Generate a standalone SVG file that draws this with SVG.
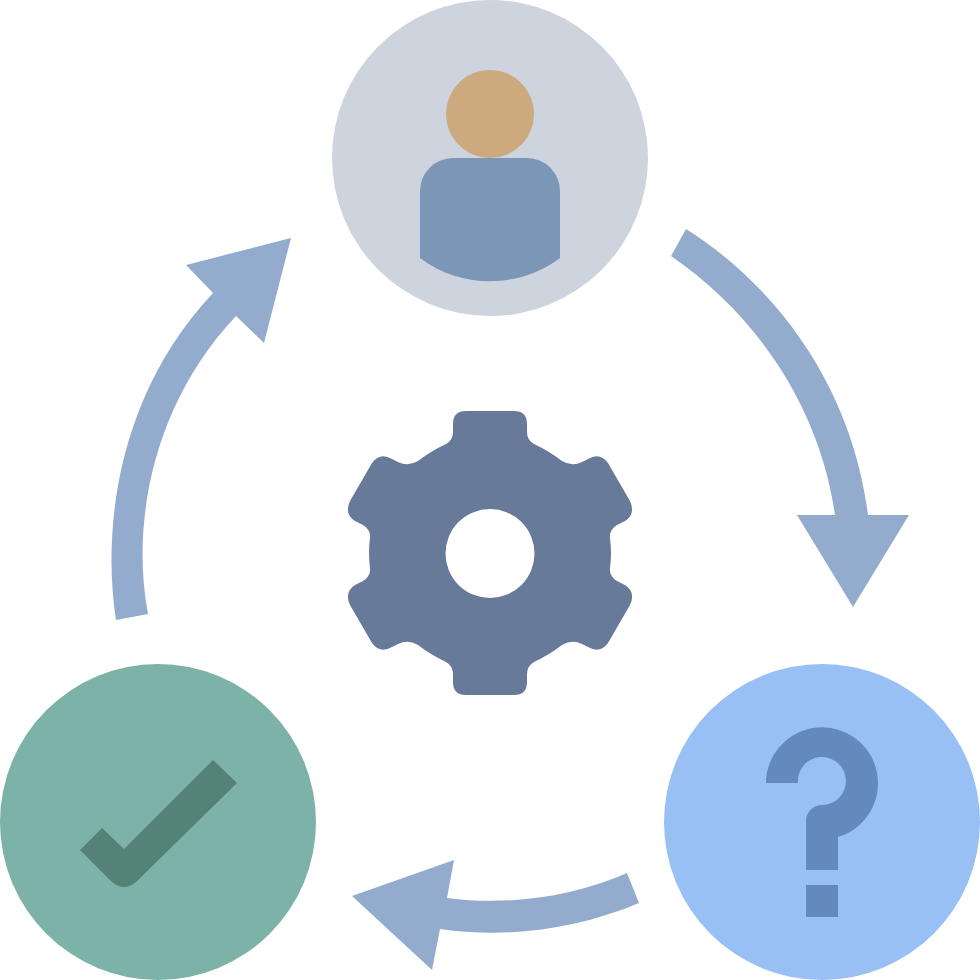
<svg xmlns="http://www.w3.org/2000/svg" width="980" height="980" viewBox="0 0 980 980">
<style>.arrow{fill:#93acce}</style>
<rect width="980" height="980" fill="#fff"/>
<g id="connectors">
<path class="arrow" d="M686 229C784 291 853 395 868 515H909L853 607L797 515H835C820 408 757 315 671 256Z"/>
<path class="arrow" d="M639 903C577 929 507 939 440 929L432 970L352 896L454 860L447 898C509 906 572 897 627 873Z"/>
<path class="arrow" d="M116 620C102 530 117 395 213 293L186 265L291 238L264 343L236 316C152 405 131 525 148 614Z"/>
</g>
<g id="user">
<circle cx="490" cy="158" r="158" fill="#cdd4de"/>
<circle cx="490" cy="114" r="44" fill="#cda97e"/>
<path d="M420 258V191A33 33 0 0 1 453 158H527A33 33 0 0 1 560 191V258C519 289 461 289 420 258Z" fill="#7c96b8"/>
</g>
<g id="gear">
<path fill-rule="evenodd" fill="#687a9a" d="M466 411H514Q527 411 527 424V432Q527 440 534 444Q549 451 562 461Q572 467 582 462L588 459Q600 452 608 463L630 501Q636 514 625 521L617 525Q609 530 610 538Q612 553 610 568Q609 576 617 581L625 585Q636 592 630 605L608 643Q600 654 588 647L582 644Q572 639 562 645Q549 655 534 662Q527 666 527 674V682Q527 695 514 695H466Q453 695 453 682V674Q453 666 446 662Q431 655 418 645Q408 639 398 644L392 647Q380 654 372 643L350 605Q344 592 355 585L363 581Q371 576 370 568Q368 553 370 538Q371 530 363 525L355 521Q344 514 350 501L372 463Q380 452 392 459L398 462Q408 467 418 461Q431 451 446 444Q453 440 453 432V424Q453 411 466 411ZM490 509A44.500 44.500 0 1 0 490 598A44.500 44.500 0 1 0 490 509Z"/>
</g>
<g id="question">
<circle cx="822" cy="822" r="158" fill="#98c0f4"/>
<path fill="#6389bd" d="M766 783A56 56 0 1 1 838 837V870H806V821A16 16 0 0 1 822 805A24 24 0 1 0 798 783Z"/>
<rect x="806" y="885" width="32" height="32" fill="#6389bd"/>
</g>
<g id="check">
<circle cx="158" cy="822" r="158" fill="#7db2a8"/>
<path fill="#558277" d="M213 760L237 783L136 882Q124 892 112 882L80 850L102 828L124 849Z"/>
</g>
</svg>
